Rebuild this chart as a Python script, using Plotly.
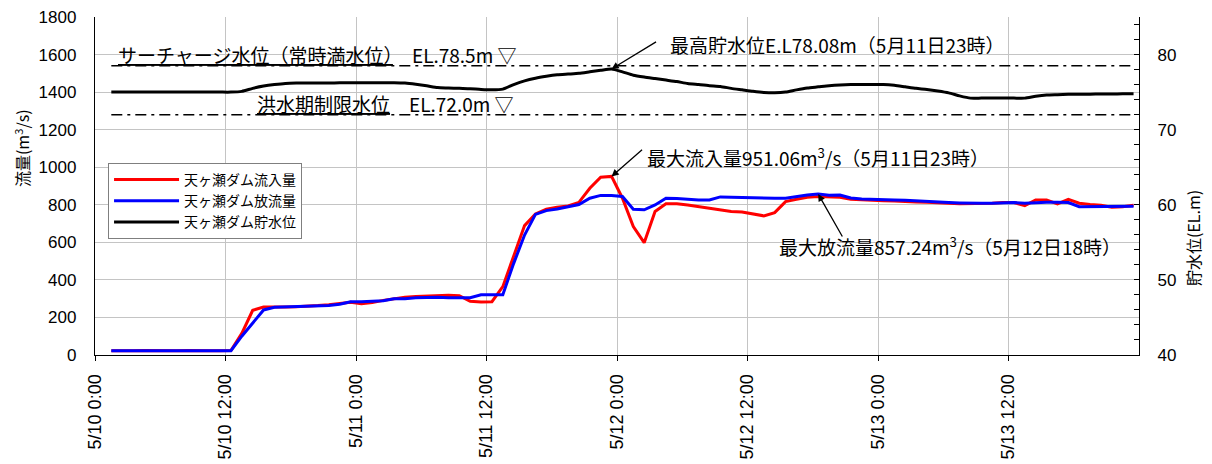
import pandas as pd
import plotly.graph_objects as go

# ---------------- data (hourly, 5/10 1:00 - 5/13 23:00) ----------------
start_time = "2023-05-10 01:00"
n_hours = 95
times = pd.date_range(start_time, periods=n_hours, freq="h")

inflow = [22, 21, 22, 24, 23, 21, 22, 24, 25, 23, 22, 24,
          115, 238, 255, 254, 256, 257, 259, 263, 268, 275, 281, 273, 279,
          291, 300, 307, 311, 314, 314, 318, 316, 286, 282, 284, 364, 524,
          689, 751, 776, 787, 794, 813, 888, 947, 951.06,
          835, 684, 598, 764, 805, 805, 799, 790, 781, 769, 764, 762, 751,
          741, 758, 817, 829, 840, 844, 840, 840, 829, 826, 822, 822, 820,
          819, 815, 813, 812, 808, 806, 806, 806, 808, 812, 812, 796, 826,
          826, 805, 829, 808, 801, 797, 787, 790, 797]

outflow = [23, 23, 22, 24, 23, 22, 22, 23, 23, 22, 23, 23,
           100, 172, 240, 254, 256, 257, 261, 263, 263, 270, 284, 284, 286,
           289, 300, 300, 305, 307, 307, 305, 305, 305, 321, 321, 321, 488,
           639, 749, 769, 778, 790, 801, 835, 850, 850,
           844, 776, 773, 799, 835, 833, 829, 826, 826, 842, 840, 838, 835,
           835, 835, 835, 844, 852, 857.24, 851, 852, 836, 831, 828, 828, 826,
           824, 820, 819, 815, 812, 810, 808, 808, 808, 810, 812, 808, 812,
           813, 813, 812, 790, 790, 790, 792, 792, 792]

level = [75.0] * 12 + [
    75.1, 75.5, 75.8, 76.0, 76.15, 76.2, 76.2, 76.2, 76.2, 76.25, 76.25,
    76.25, 76.25, 76.25, 76.25, 76.2, 76.05, 75.85, 75.6, 75.55, 75.5,
    75.45, 75.35, 75.3, 75.4, 76.0, 76.5, 76.85, 77.1, 77.3, 77.4, 77.5,
    77.7, 77.9, 78.08,
    77.7, 77.25, 77.0, 76.8, 76.6, 76.4, 76.15, 76.0, 75.85, 75.75, 75.5,
    75.3, 75.1, 74.95, 74.9, 75.0, 75.3, 75.55, 75.7, 75.85, 75.95, 76.0,
    76.0, 76.0, 76.0, 75.9, 75.7, 75.5, 75.35, 75.15, 74.9, 74.5, 74.2,
    74.2, 74.2, 74.2, 74.2, 74.2, 74.45, 74.62, 74.66, 74.7, 74.7, 74.72,
    74.75, 74.75, 74.77, 74.77]

surcharge_level = 78.5
flood_limit_level = 72.0

x_tick_vals = pd.date_range("2023-05-10 00:00", "2023-05-13 12:00", freq="12h")
x_range = ["2023-05-10 00:00", "2023-05-14 00:00"]

names = ["天ヶ瀬ダム流入量", "天ヶ瀬ダム放流量", "天ヶ瀬ダム貯水位"]
label_surcharge = "<span style='text-decoration:underline'>サーチャージ水位（常時満水位）</span>　EL.78.5m ▽"
label_flood = "<span style='text-decoration:underline'>洪水期制限水位</span>　EL.72.0m ▽"
label_max_level = "最高貯水位E.L78.08m（5月11日23時）"
label_max_in = "最大流入量951.06m<sup>3</sup>/s（5月11日23時）"
label_max_out = "最大放流量857.24m<sup>3</sup>/s（5月12日18時）"

# ---------------- figure ----------------
JP = "Noto Sans CJK JP"
NUM = "Liberation Sans, Arial, sans-serif"
period = dict(xperiod=3600000, xperiodalignment="middle", xperiod0="2023-05-10 00:00")

fig = go.Figure()
for lv in (surcharge_level, flood_limit_level):
    fig.add_trace(go.Scatter(x=[times[0], times[-1]], y=[lv, lv], yaxis="y2",
                             mode="lines", showlegend=False, hoverinfo="skip",
                             line=dict(color="black", width=1.5, dash="11px,5px,3px,5px"),
                             **period))
fig.add_trace(go.Scatter(x=times, y=inflow, name=names[0], mode="lines",
                         line=dict(color="#ff0000", width=3), **period))
fig.add_trace(go.Scatter(x=times, y=outflow, name=names[1], mode="lines",
                         line=dict(color="#0000ff", width=3), **period))
fig.add_trace(go.Scatter(x=times, y=level, name=names[2], mode="lines", yaxis="y2",
                         line=dict(color="black", width=3, shape="spline", smoothing=0.6),
                         **period))

half = pd.Timedelta(minutes=30)
i_lv = max(range(n_hours), key=lambda i: level[i])
i_in = max(range(n_hours), key=lambda i: inflow[i])
i_out = max(range(n_hours), key=lambda i: outflow[i])

arrow = dict(text="", showarrow=True, arrowhead=2, arrowsize=1.1, arrowwidth=1.3,
             arrowcolor="black", axref="pixel", ayref="pixel", standoff=0)
annotations = [
    dict(x=times[i_lv] + half, y=level[i_lv], xref="x", yref="y2", ax=46, ay=-28, **arrow),
    dict(x=times[i_in] + half, y=inflow[i_in], xref="x", yref="y", ax=32, ay=-28, **arrow),
    dict(x=times[i_out] + half, y=outflow[i_out], xref="x", yref="y", ax=25, ay=44, **arrow),
]
txt = dict(xref="paper", yref="paper", showarrow=False, xanchor="left", yanchor="middle",
           font=dict(family=JP, size=19, color="black"))
annotations += [
    dict(x=0.549, y=0.920, text=label_max_level, **txt),
    dict(x=0.527, y=0.586, text=label_max_in, **txt),
    dict(x=0.653, y=0.3225, text=label_max_out, **txt),
    dict(x=0.020, y=0.888, text=label_surcharge, **txt),
    dict(x=0.153, y=0.743, text=label_flood, **txt),
    dict(x=-0.07, y=0.612, xref="paper", yref="paper", showarrow=False, textangle=-90,
         xanchor="center", yanchor="middle",
         text="流量(m<sup>3</sup>/s)", font=dict(family=JP, size=16, color="black")),
    dict(x=1.0517, y=0.346, xref="paper", yref="paper", showarrow=False, textangle=-90,
         xanchor="center", yanchor="middle",
         text="貯水位(EL.m)", font=dict(family=JP, size=16, color="black")),
]

grid = "#c4c4c4"
# the page body adds an 8 px offset, so the figure is 8 px smaller and margins compensate
fig.update_layout(
    template="none",
    width=1204, height=456, autosize=False,
    margin=dict(l=87, r=73, t=9, b=109, autoexpand=False),
    paper_bgcolor="white", plot_bgcolor="white",
    showlegend=True,
    legend=dict(x=0.0125, y=0.568, xanchor="left", yanchor="top",
                bgcolor="white", bordercolor="#7f7f7f", borderwidth=1,
                font=dict(family=JP, size=14, color="black"),
                itemwidth=65, tracegroupgap=0),
    xaxis=dict(type="date", range=x_range, tickvals=x_tick_vals, automargin=False,
               tickformat="%-m/%-d %-H:%M", tickangle=-90,
               showgrid=True, gridcolor=grid, gridwidth=1, zeroline=False,
               showline=True, linecolor="black", linewidth=1.3,
               ticks="outside", ticklen=5, tickcolor="black", ticklabelstandoff=6,
               tickfont=dict(family=NUM, size=18, color="black")),
    yaxis=dict(range=[0, 1800], dtick=200, tick0=0, automargin=False,
               ticklabeloverflow="allow",
               showgrid=True, gridcolor=grid, gridwidth=1, zeroline=False,
               showline=True, linecolor="black", linewidth=1.3,
               ticks="", ticklabelstandoff=14,
               tickfont=dict(family=NUM, size=17, color="black")),
    yaxis2=dict(range=[40, 85], dtick=10, tick0=40, overlaying="y", side="right",
                automargin=False, showgrid=False, zeroline=False,
                showline=True, linecolor="black", linewidth=1.3,
                ticks="inside", ticklen=5, tickcolor="black", ticklabelstandoff=14,
                minor=dict(dtick=2, ticks="inside", ticklen=5, tickcolor="black", showgrid=False),
                tickfont=dict(family=NUM, size=17, color="black")),
    annotations=annotations,
)

fig.write_html("out.html")
